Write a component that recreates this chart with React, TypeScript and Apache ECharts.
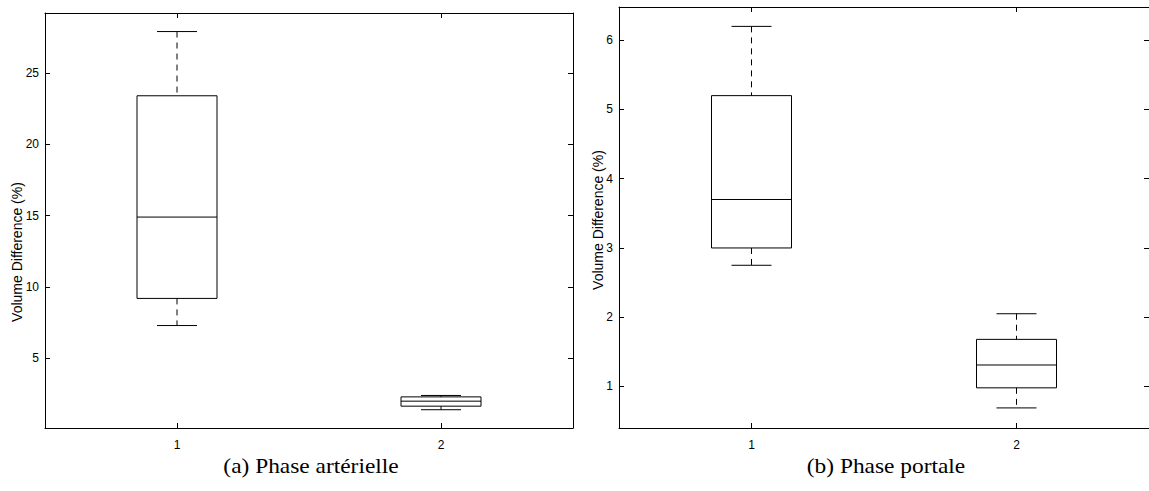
import { useEffect, useRef } from "react";
import * as echarts from "echarts";

const categories = ["1", "2"];
// [lower whisker, Q1, median, Q3, upper whisker]
const arterialStats = [
  [7.3, 9.2, 14.9, 23.4, 27.9],
  [1.4, 1.65, 2.0, 2.3, 2.4],
];
const portalStats = [
  [2.75, 3.0, 3.7, 5.2, 6.2],
  [0.69, 0.98, 1.31, 1.68, 2.05],
];
const arterialTicks = [5, 10, 15, 20, 25];
const portalTicks = [1, 2, 3, 4, 5, 6];
const arterialRange = [0.12, 29.2];
const portalRange = [0.4, 6.48];
const yTitle = "Volume Difference (%)";
const captions = ["(a) Phase artérielle", "(b) Phase portale"];

const SANS = "'Liberation Sans', Arial, sans-serif";
const SERIF = "'Liberation Serif', 'DejaVu Serif', serif";

function makeSeries(stats: number[][], idx: number) {
  return {
    type: "custom",
    xAxisIndex: idx,
    yAxisIndex: idx,
    data: stats.map((s, i) => [i, ...s]),
    encode: { x: 0, y: [1, 2, 3, 4, 5] },
    renderItem: (_params: any, api: any) => {
      const c = api.value(0);
      const p = (k: number) => api.coord([c, api.value(k)]);
      const lo = p(1), q1 = p(2), md = p(3), q3 = p(4), hi = p(5);
      const x = lo[0];
      const bw = 40, cw = 20;
      const line = (x1: number, y1: number, x2: number, y2: number, dash?: number[]) => ({
        type: "line",
        shape: { x1, y1, x2, y2 },
        style: { stroke: "#000", lineWidth: 1, lineDash: dash },
      });
      return {
        type: "group",
        children: [
          {
            type: "rect",
            shape: { x: x - bw, y: q3[1], width: 2 * bw, height: q1[1] - q3[1] },
            style: { fill: "none", stroke: "#000", lineWidth: 1 },
          },
          line(x - bw, md[1], x + bw, md[1]),
          line(x, hi[1], x, q3[1], [6, 5]),
          line(x, q1[1], x, lo[1], [6, 5]),
          line(x - cw, hi[1], x + cw, hi[1]),
          line(x - cw, lo[1], x + cw, lo[1]),
        ],
      };
    },
  };
}

function catAxis(grid: number, top: boolean) {
  return {
    type: "category",
    gridIndex: grid,
    position: top ? "top" : "bottom",
    data: categories,
    boundaryGap: true,
    axisLine: { show: true, lineStyle: { color: "#000", width: 1 } },
    axisTick: { show: true, inside: true, length: 5, alignWithLabel: true, lineStyle: { color: "#000" } },
    axisLabel: { show: !top, color: "#000", fontSize: 12, fontFamily: SANS, margin: 11 },
    splitLine: { show: false },
  };
}

function valAxis(grid: number, right: boolean, range: number[], ticks: number[]) {
  return {
    type: "value",
    gridIndex: grid,
    position: right ? "right" : "left",
    min: range[0],
    max: range[1],
    axisLine: { show: true, lineStyle: { color: "#000", width: 1 } },
    axisTick: { show: true, inside: true, length: 5, customValues: ticks, lineStyle: { color: "#000" } },
    axisLabel: { show: !right, customValues: ticks, color: "#000", fontSize: 12, fontFamily: SANS, margin: 6 },
    splitLine: { show: false },
  };
}

export default function App() {
  const ref = useRef<HTMLDivElement>(null);
  useEffect(() => {
    if (!ref.current) return;
    const chart = echarts.init(ref.current, undefined, { renderer: "svg" });
    const caption = (text: string, x: number) => ({
      type: "text",
      x,
      y: 467,
      scaleX: 1.17,
      style: { text, fontSize: 20, fontFamily: SERIF, fill: "#000", align: "center", verticalAlign: "middle" },
    });
    const title = (x: number, y: number) => ({
      type: "text",
      x,
      y,
      rotation: Math.PI / 2,
      style: { text: yTitle, fontSize: 14, fontFamily: SANS, fill: "#000", align: "center", verticalAlign: "middle" },
    });
    chart.setOption({
      animation: false,
      backgroundColor: "#fff",
      grid: [
        { left: 45, top: 13, width: 528, height: 415 },
        { left: 619, top: 7, width: 536, height: 421 },
      ],
      xAxis: [catAxis(0, false), catAxis(1, false), catAxis(0, true), catAxis(1, true)],
      yAxis: [
        valAxis(0, false, arterialRange, arterialTicks),
        valAxis(1, false, portalRange, portalTicks),
        valAxis(0, true, arterialRange, arterialTicks),
        valAxis(1, true, portalRange, portalTicks),
      ],
      series: [makeSeries(arterialStats, 0), makeSeries(portalStats, 1)],
      graphic: [title(17, 252), title(598, 220), caption(captions[0], 311), caption(captions[1], 886)],
    });
    return () => chart.dispose();
  }, []);
  return (
    <div
      ref={ref}
      style={{ position: "fixed", left: 0, top: 0, width: 1149, height: 491, background: "#fff" }}
    />
  );
}
